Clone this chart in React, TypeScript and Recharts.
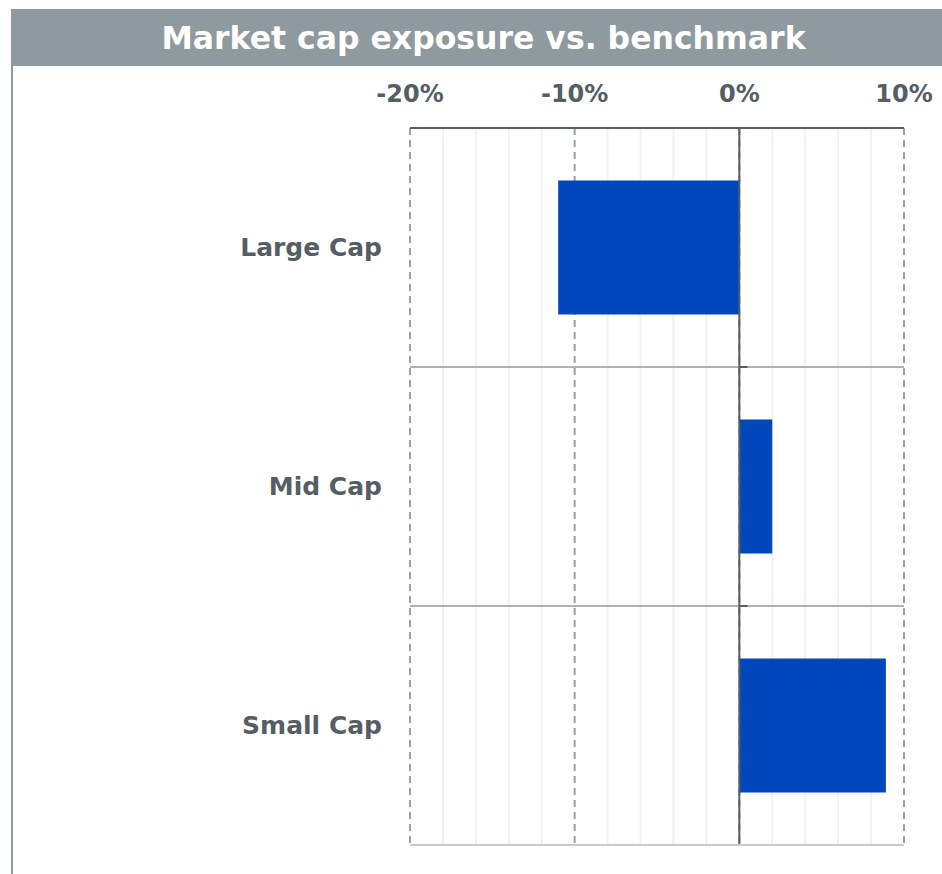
import React from "react";
import { Bar, BarChart, CartesianGrid, ReferenceLine, XAxis, YAxis } from "recharts";

const categories = ["Large Cap", "Mid Cap", "Small Cap"];
const exposure = [-11.0, 2.0, 8.9];
const majorTicks = [-20, -10, 0, 10];
const minorGrid = [-18, -16, -14, -12, -8, -6, -4, -2, 2, 4, 6, 8];

const data = categories.map((name, i) => ({ name, value: exposure[i] }));

const FONT = "'DejaVu Sans', sans-serif";
const DARK = "#555E62";
const GREY = "#8F9A9E";

const TopTick = (props: any) => {
  const { x, payload } = props;
  return (
    <text x={x} y={102} textAnchor="middle" fontFamily={FONT} fontWeight="bold" fontSize={24} fill={DARK}>
      {`${payload.value}%`}
    </text>
  );
};

const CatTick = (props: any) => {
  const { y, payload } = props;
  return (
    <text x={382} y={y} dy={8} textAnchor="end" fontFamily={FONT} fontWeight="bold" fontSize={25} fill={DARK}>
      {payload.value}
    </text>
  );
};

// minor gridlines placed through the x axis scale
const minorLines = ({ xAxis, offset }: any) => {
  if (xAxis && typeof xAxis.scale === "function") {
    return minorGrid.map((v) => xAxis.scale(v));
  }
  return minorGrid.map((v) => offset.left + ((v + 20) / 30) * offset.width);
};

const App: React.FC = () => {
  return (
    <div style={{ position: "absolute", left: 0, top: 0, width: 942, height: 874, background: "#fff" }}>
      <div
        style={{
          position: "absolute",
          left: 11,
          top: 9,
          width: 917,
          paddingLeft: 14,
          height: 57,
          background: GREY,
          color: "#fff",
          fontFamily: FONT,
          fontWeight: "bold",
          fontSize: 31.5,
          lineHeight: "58px",
          textAlign: "center",
        }}
      >
        Market cap exposure vs. benchmark
      </div>
      <div style={{ position: "absolute", left: 11, top: 66, width: 2, height: 808, background: GREY }} />
      <div style={{ position: "absolute", left: 0, top: 0 }}>
        <BarChart
          width={942}
          height={874}
          data={data}
          layout="vertical"
          margin={{ top: 127, right: 38, left: 0, bottom: 28 }}
          barCategoryGap="22%"
        >
          <CartesianGrid
            horizontal={false}
            verticalCoordinatesGenerator={minorLines}
            stroke="#F1F1F1"
            strokeWidth={2}
          />
          <CartesianGrid horizontal={false} stroke="#99A2A5" strokeWidth={2} strokeDasharray="7 5" />
          <XAxis
            type="number"
            orientation="top"
            height={1}
            domain={[-20, 10]}
            ticks={majorTicks}
            tick={<TopTick />}
            tickLine={false}
            axisLine={{ stroke: DARK, strokeWidth: 2 }}
            interval={0}
            allowDataOverflow
          />
          <XAxis
            xAxisId="bottom"
            type="number"
            orientation="bottom"
            height={1}
            domain={[-20, 10]}
            ticks={majorTicks}
            tick={false}
            tickLine={false}
            axisLine={{ stroke: "#C8CBCD", strokeWidth: 2 }}
            allowDataOverflow
          />
          <YAxis
            type="category"
            dataKey="name"
            width={410}
            tick={<CatTick />}
            tickLine={false}
            axisLine={false}
          />
          <Bar dataKey="value" fill="#0047BB" isAnimationActive={false} />
          {categories.slice(1).map((c) => (
            <ReferenceLine key={`s${c}`} y={c} position="start" stroke={GREY} strokeWidth={1.5} />
          ))}
          <ReferenceLine x={0} stroke={DARK} strokeWidth={2} />
          {categories.slice(1).map((c) => (
            <ReferenceLine
              key={`z${c}`}
              position="start"
              segment={[
                { x: 0, y: c },
                { x: 0.5, y: c },
              ]}
              stroke={DARK}
              strokeWidth={2}
            />
          ))}
          <ReferenceLine
            position="end"
            ifOverflow="visible"
            segment={[
              { x: 0, y: categories[categories.length - 1] },
              { x: 0.5, y: categories[categories.length - 1] },
            ]}
            stroke={DARK}
            strokeWidth={2}
          />
        </BarChart>
      </div>
    </div>
  );
};

export default App;
